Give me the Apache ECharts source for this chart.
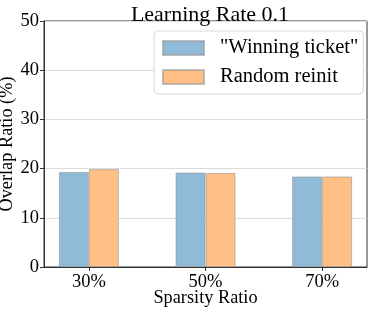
<!DOCTYPE html>
<html><head><meta charset="utf-8">
<script src="https://cdn.jsdelivr.net/npm/echarts@6/dist/echarts.min.js"></script>
<style>html,body{margin:0;padding:0;background:#fff}#c{width:374px;height:310px}</style>
</head><body><div id="c"></div>
<script>
var categories = ['30%', '50%', '70%'];
var winningTicket = [19.3, 19.2, 18.4];
var randomReinit = [19.9, 19.1, 18.4];
var yTicks = [0, 10, 20, 30, 40, 50];

var FONT = '"Liberation Serif", "Times New Roman", serif';
var chart = echarts.init(document.getElementById('c'), null, {renderer: 'canvas'});
function toData(arr) { return arr.map(function (v, i) { return [i, v]; }); }
var idx = categories.map(function (c, i) { return i; });

chart.setOption({
  animation: false,
  title: {
    text: 'Learning Rate 0.1', left: 205, top: -1, textAlign: 'center',
    textStyle: {fontFamily: FONT, fontSize: 22, fontWeight: 'normal', color: '#000'}
  },
  legend: {
    orient: 'vertical', left: 154, top: 31,
    padding: [6, 5, 6, 8],
    itemWidth: 41, itemHeight: 14, itemGap: 7,
    backgroundColor: '#fff', borderColor: '#d8d8d8', borderWidth: 1, borderRadius: 4,
    icon: 'rect',
    textStyle: {fontFamily: FONT, fontSize: 20.5, color: '#000', lineHeight: 22, padding: [0, 0, 0, 11]},
    data: ['"Winning ticket"', 'Random reinit']
  },
  grid: {left: 44, right: 7, top: 21, bottom: 43, outerBoundsMode: 'none', containLabel: false,
    show: true, borderColor: '#333', borderWidth: 1, backgroundColor: 'transparent'},
  xAxis: {
    type: 'value', min: -0.385, max: 2.385,
    name: 'Sparsity Ratio', nameLocation: 'middle', nameGap: 22, nameMoveOverlap: false,
    nameTextStyle: {fontFamily: FONT, fontSize: 18.3, color: '#000'},
    axisLine: {show: true, onZero: false, lineStyle: {color: '#333'}},
    axisTick: {show: true, length: 4, lineStyle: {color: '#333'}, customValues: idx},
    axisLabel: {
      fontFamily: FONT, fontSize: 18.5, color: '#000', margin: 6,
      customValues: idx,
      formatter: function (v) { return categories[Math.round(v)]; }
    },
    splitLine: {show: false}
  },
  yAxis: {
    type: 'value', min: 0, max: 50, interval: 10,
    name: 'Overlap Ratio (%)', nameLocation: 'middle', nameGap: 28, nameMoveOverlap: false,
    nameTextStyle: {fontFamily: FONT, fontSize: 18.3, color: '#000'},
    axisLine: {show: true, onZero: false, lineStyle: {color: '#333'}},
    axisTick: {show: true, length: 4, lineStyle: {color: '#333'}},
    axisLabel: {fontFamily: FONT, fontSize: 18.5, color: '#000', margin: 5,
      formatter: function (v) { return yTicks.indexOf(v) >= 0 ? String(v) : ''; }},
    splitLine: {show: true, lineStyle: {color: '#dcdcdc', width: 1}}
  },
  series: [
    {
      name: '"Winning ticket"', type: 'bar', data: toData(winningTicket),
      barWidth: 30, barGap: '0%',
      itemStyle: {color: '#8fbbd9', borderColor: 'rgba(150,150,150,0.6)', borderWidth: 1}
    },
    {
      name: 'Random reinit', type: 'bar', data: toData(randomReinit),
      barWidth: 30, barGap: '0%',
      itemStyle: {color: '#ffbf86', borderColor: 'rgba(150,150,150,0.6)', borderWidth: 1}
    }
  ]
});
</script></body></html>
